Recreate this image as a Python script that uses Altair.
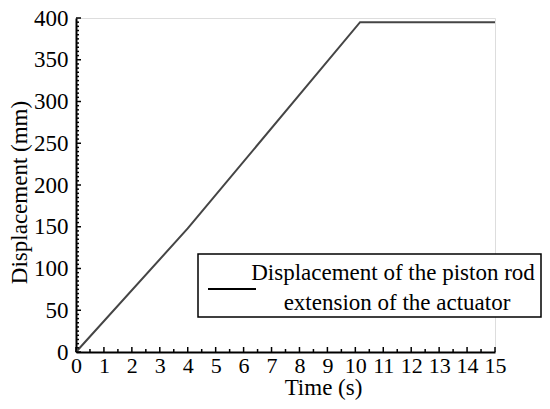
import altair as alt
import pandas as pd

# Data
time_s = [0, 4.0, 10.17, 15]
disp_mm = [0, 148, 395, 395]

x_major = list(range(0, 16))
x_minor = [i + 0.5 for i in range(0, 15)]
y_major = list(range(0, 401, 50))
y_minor = [v for v in range(0, 401, 5) if v % 50 != 0]

legend_lines = ["Displacement of the piston rod", "extension of the actuator"]

FONT = "Liberation Serif"
W, H = 419, 334

df = pd.DataFrame({"t": time_s, "d": disp_mm})

xs = alt.Scale(domain=[0, 15], nice=False, zero=False)
ys = alt.Scale(domain=[0, 400], nice=False)

ax_x = alt.Axis(values=x_major, title="Time (s)", ticks=False, grid=False,
                domainColor="black", domainWidth=2, labelFont=FONT,
                labelFontSize=22, labelColor="black", labelPadding=3,
                titleFont=FONT, titleFontSize=23, titleFontWeight="normal",
                titleColor="black", titleX=247, titleY=42,
                titleBaseline="alphabetic", titleAlign="center",
                labelFlush=False, labelOverlap=False)
ax_y = alt.Axis(values=y_major, title="Displacement (mm)", ticks=False, grid=False,
                domainColor="black", domainWidth=2, labelFont=FONT,
                labelFontSize=23, labelColor="black", labelPadding=8,
                titleFont=FONT, titleFontSize=23, titleFontWeight="normal",
                titleColor="black", titleX=-45, titleY=174, titleAngle=270,
                titleBaseline="bottom", titleAlign="center",
                labelFlush=False, labelOverlap=False)

line = alt.Chart(df).mark_line(color="#454545", strokeWidth=2).encode(
    x=alt.X("t:Q", scale=xs, axis=ax_x),
    y=alt.Y("d:Q", scale=ys, axis=ax_y),
)

xmaj = alt.Chart(pd.DataFrame({"t": x_major})).mark_rule(color="black", strokeWidth=1.5).encode(
    x=alt.X("t:Q", scale=xs, axis=ax_x), y=alt.value(H), y2=alt.value(H - 5))
xmin = alt.Chart(pd.DataFrame({"t": x_minor})).mark_rule(color="black", strokeWidth=1.5).encode(
    x=alt.X("t:Q", scale=xs, axis=ax_x), y=alt.value(H), y2=alt.value(H - 3))
ymaj = alt.Chart(pd.DataFrame({"d": y_major})).mark_rule(color="black", strokeWidth=1.5).encode(
    y=alt.Y("d:Q", scale=ys, axis=ax_y), x=alt.value(0), x2=alt.value(5))
ymin = alt.Chart(pd.DataFrame({"d": y_minor})).mark_rule(color="black", strokeWidth=1.5).encode(
    y=alt.Y("d:Q", scale=ys, axis=ax_y), x=alt.value(0), x2=alt.value(3))

box = alt.Chart(pd.DataFrame({"a": [0]})).mark_rect(
    fill="white", stroke="black", strokeWidth=1.5).encode(
    x=alt.value(122), x2=alt.value(465), y=alt.value(236), y2=alt.value(299))
leg_line = alt.Chart(pd.DataFrame({"a": [0]})).mark_rule(color="black", strokeWidth=2).encode(
    x=alt.value(132), x2=alt.value(180), y=alt.value(271))
leg_t1 = alt.Chart(pd.DataFrame({"txt": [legend_lines[0]]})).mark_text(
    font=FONT, fontSize=23, color="black", align="center", baseline="alphabetic").encode(
    text="txt:N", x=alt.value(317), y=alt.value(262))
leg_t2 = alt.Chart(pd.DataFrame({"txt": [legend_lines[1]]})).mark_text(
    font=FONT, fontSize=23, color="black", align="center", baseline="alphabetic").encode(
    text="txt:N", x=alt.value(321), y=alt.value(292))

chart = alt.layer(line, xmaj, xmin, ymaj, ymin, box, leg_line, leg_t1, leg_t2).properties(
    width=W, height=H,
    autosize=alt.AutoSizeParams(type="none"),
    padding={"left": 68, "top": 10, "right": 47, "bottom": 49},
).configure_view(stroke=None).configure(background="white")

chart.save("out.html", embed_options={"renderer": "svg", "actions": False})
